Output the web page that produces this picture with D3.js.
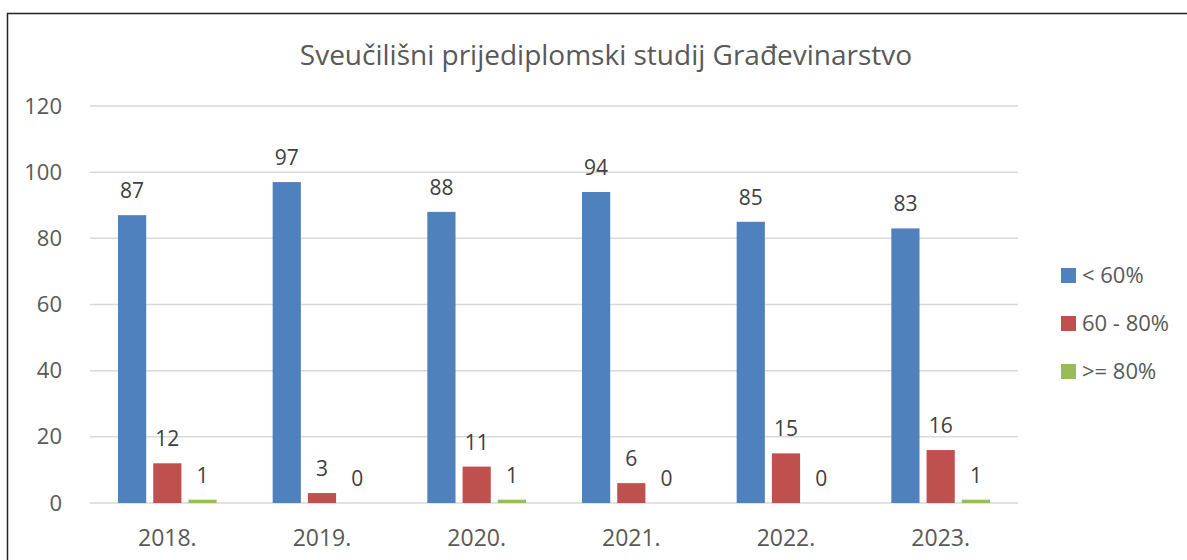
<!DOCTYPE html>
<html>
<head>
<meta charset="utf-8">
<script src="https://cdn.jsdelivr.net/npm/d3@7"></script>
<style>
  body { margin: 0; background: #fff; }
  svg { display: block; font-family: "Open Sans", sans-serif; }
</style>
</head>
<body>
<div id="graph"></div>
<script>
// data
var years = ["2018.", "2019.", "2020.", "2021.", "2022.", "2023."];
var seriesNames = ["< 60%", "60 - 80%", ">= 80%"];
var below60 = [87, 97, 88, 94, 85, 83];
var from60to80 = [12, 3, 11, 6, 15, 16];
var above80 = [1, 0, 1, 0, 0, 1];
var yTicks = [0, 20, 40, 60, 80, 100, 120];
var colors = ["#4F81BD", "#C0504D", "#9BBB59"];
var title = "Sveučilišni prijediplomski studij Građevinarstvo";

var seriesValues = [below60, from60to80, above80];

var W = 1187, H = 560;
var margin = {top: 106, bottom: 57, left: 90, right: 169},
    width = W - margin.left - margin.right,
    height = H - margin.top - margin.bottom;

var svg = d3.select("#graph").append("svg")
    .attr("width", W)
    .attr("height", H);

// outer chart border (cut off at right and bottom)
svg.append("rect")
    .attr("x", 7.5).attr("y", 13.5)
    .attr("width", W + 10).attr("height", H + 10)
    .attr("fill", "none")
    .attr("stroke", "#222")
    .attr("stroke-width", 1.5);

svg.append("text")
    .attr("x", 606)
    .attr("y", 65)
    .attr("text-anchor", "middle")
    .attr("font-size", 28)
    .attr("fill", "#595959")
    .text(title);

var g = svg.append("g")
    .attr("transform", "translate(" + margin.left + "," + margin.top + ")");

var x = d3.scaleBand()
    .domain(years)
    .range([0, width]);

var x1 = d3.scaleBand()
    .domain(d3.range(seriesNames.length))
    .range([28, x.bandwidth() - 28])
    .paddingInner(0.2);

var y = d3.scaleLinear()
    .domain([0, 120])
    .range([height, 0]);

// gridlines
g.selectAll(".grid")
    .data(yTicks)
    .enter().append("line")
    .attr("x1", 0).attr("x2", width)
    .attr("y1", function(d) { return y(d); })
    .attr("y2", function(d) { return y(d); })
    .attr("stroke", "#D9D9D9")
    .attr("stroke-width", 1.5);

// y axis labels
var yAxis = g.append("g")
    .call(d3.axisLeft(y).tickValues(yTicks).tickSize(0).tickPadding(28));
yAxis.select(".domain").remove();
yAxis.selectAll("text")
    .attr("font-size", 22)
    .attr("font-family", "Open Sans, sans-serif")
    .attr("fill", "#595959");

// x axis labels
var xAxis = g.append("g")
    .attr("transform", "translate(0," + height + ")")
    .call(d3.axisBottom(x).tickSize(0).tickPadding(27));
xAxis.select(".domain").remove();
xAxis.selectAll("text")
    .attr("font-size", 23)
    .attr("font-family", "Open Sans, sans-serif")
    .attr("fill", "#595959");

var groups = g.selectAll(".year")
    .data(years)
    .enter().append("g")
    .attr("transform", function(d) { return "translate(" + x(d) + ",0)"; });

groups.selectAll("rect")
    .data(function(d, i) { return seriesValues.map(function(s, k) { return {k: k, v: s[i]}; }); })
    .enter().append("rect")
    .attr("x", function(d) { return x1(d.k); })
    .attr("width", x1.bandwidth())
    .attr("y", function(d) { return y(d.v); })
    .attr("height", function(d) { return height - y(d.v); })
    .attr("fill", function(d) { return colors[d.k]; });

groups.selectAll(".lbl")
    .data(function(d, i) { return seriesValues.map(function(s, k) { return {k: k, v: s[i]}; }); })
    .enter().append("text")
    .attr("class", "lbl")
    .attr("x", function(d) { return x1(d.k) + x1.bandwidth() / 2; })
    .attr("y", function(d) { return y(d.v) - 17; })
    .attr("text-anchor", "middle")
    .attr("font-size", 21)
    .attr("fill", "#404040")
    .text(function(d) { return d.v; });

// legend
var legend = svg.append("g")
    .attr("transform", "translate(1061,268)");
var items = legend.selectAll("g")
    .data(seriesNames)
    .enter().append("g")
    .attr("transform", function(d, i) { return "translate(0," + i * 48 + ")"; });
items.append("rect")
    .attr("width", 15).attr("height", 15)
    .attr("fill", function(d, i) { return colors[i]; });
items.append("text")
    .attr("x", 21).attr("y", 15)
    .attr("font-size", 22)
    .attr("fill", "#595959")
    .text(function(d) { return d; });
</script>
</body>
</html>
